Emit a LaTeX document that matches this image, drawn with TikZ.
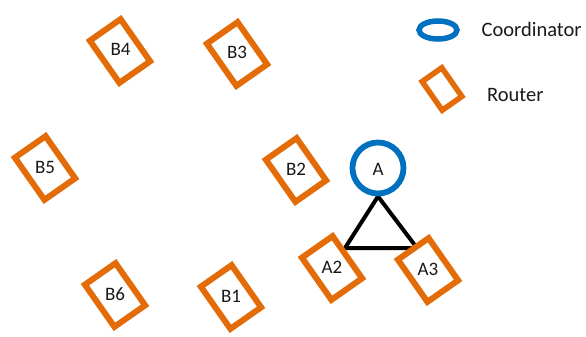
\documentclass[tikz,border=0pt]{standalone}
\usepackage{fontspec}
\setmainfont{Carlito}
\usetikzlibrary{shapes.geometric}
\definecolor{routerorange}{HTML}{E36C09}
\definecolor{coordblue}{HTML}{0070C0}
\begin{document}
\begin{tikzpicture}[x=1pt, y=-1pt,
  router/.style={draw=routerorange, line width=6pt, fill=white, rectangle,
    minimum width=37.5pt, minimum height=51.5pt, inner sep=0pt, rotate=35},
  smallrouter/.style={router, minimum width=24pt, minimum height=35pt, line width=5.5pt},
  coord/.style={draw=coordblue, line width=5.8pt, fill=white, circle,
    minimum size=51pt, inner sep=0pt},
  legendcoord/.style={draw=coordblue, line width=5.5pt, ellipse,
    minimum width=38pt, minimum height=18pt, inner sep=0pt},
  lbl/.style={font=\fontsize{19}{22}\selectfont, text=black!90, inner sep=0pt},
  legendtext/.style={lbl, font=\fontsize{20.5}{24}\selectfont, anchor=west},
  link/.style={line width=4pt, black, line join=miter}
]
\useasboundingbox (0,0) rectangle (586,337);

% link triangle between the coordinator and its two routers
\coordinate (t2) at (345,248);
\coordinate (t3) at (417,248);
\node[coord, draw=none, fill=none] (Apos) at (378,168) {};
\draw[link] (Apos.south) -- (t2) -- (t3) -- cycle;

% coordinator
\node[coord] (A) at (378,168) {};
\node[lbl] (At) at (378,169) {A};

% routers of cluster A
\node[router] (A2) at (332,268) {};
\node[lbl] (A2t) at (332,267) {A2};
\node[router] (A3) at (428,270) {};
\node[lbl] (A3t) at (428,269) {A3};

% routers of cluster B
\node[router] (B1) at (231,297) {};
\node[lbl] (B1t) at (231,296) {B1};
\node[router] (B2) at (296,170) {};
\node[lbl] (B2t) at (296,169) {B2};
\node[router] (B3) at (237,54) {};
\node[lbl] (B3t) at (237,52.5) {B3};
\node[router] (B4) at (120,51) {};
\node[lbl] (B4t) at (120.5,49.5) {B4};
\node[router] (B5) at (45,168) {};
\node[lbl] (B5t) at (45,167) {B5};
\node[router] (B6) at (115,295) {};
\node[lbl] (B6t) at (115,294) {B6};

% legend
\node[legendcoord] (legC) at (438,30) {};
\node[legendtext] (legCt) at (481.5,29.7) {Coordinator};
\node[smallrouter] (legR) at (442,89) {};
\node[legendtext] (legRt) at (487,95) {Router};
\end{tikzpicture}
\end{document}
